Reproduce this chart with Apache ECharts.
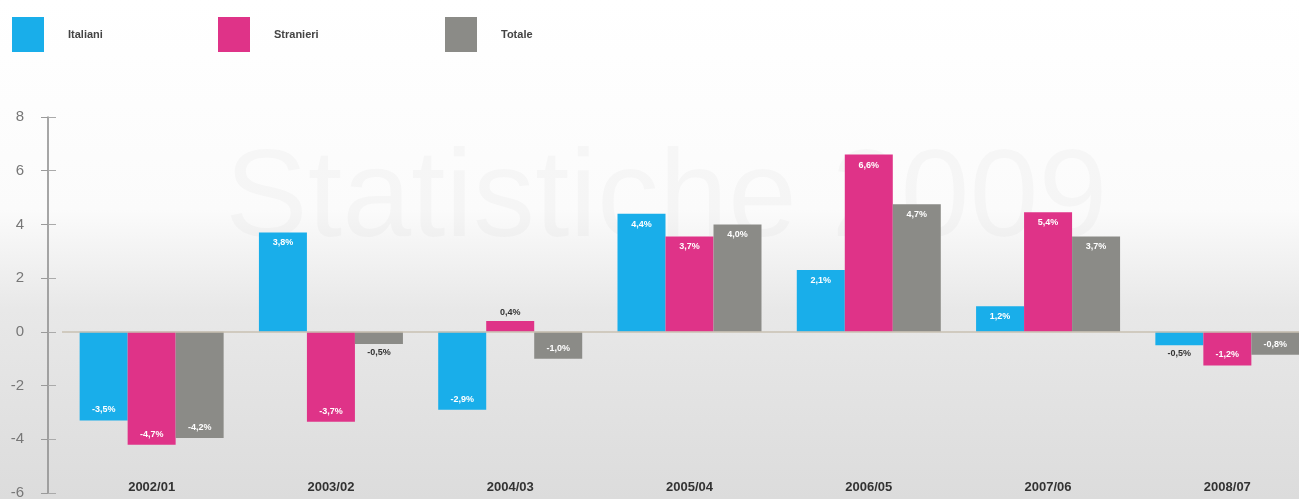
<!DOCTYPE html>
<html>
<head>
<meta charset="utf-8">
<script src="https://cdn.jsdelivr.net/npm/echarts@6/dist/echarts.min.js"></script>
<style>
html,body{margin:0;padding:0;background:#fff;}
#chart{width:1299px;height:499px;}
</style>
</head>
<body>
<div id="chart"></div>
<script>
// Categories
var categories = ['2002/01', '2003/02', '2004/03', '2005/04', '2006/05', '2007/06', '2008/07'];
// Bar heights as drawn in the picture
var italiani  = [-3.3, 3.7, -2.9, 4.4, 2.3, 0.95, -0.5];
var stranieri = [-4.2, -3.35, 0.4, 3.55, 6.6, 4.45, -1.25];
var totale    = [-3.95, -0.45, -1.0, 4.0, 4.75, 3.55, -0.85];
// Printed value labels
var italianiLabels  = [-3.5, 3.8, -2.9, 4.4, 2.1, 1.2, -0.5];
var stranieriLabels = [-4.7, -3.7, 0.4, 3.7, 6.6, 5.4, -1.2];
var totaleLabels    = [-4.2, -0.5, -1.0, 4.0, 4.7, 3.7, -0.8];
// Y ticks
var yTicks = [-6, -4, -2, 0, 2, 4, 6, 8];

var colors = { Italiani: '#19aeea', Stranieri: '#df3388', Totale: '#8b8b87' };

function fmt(v) { return v.toFixed(1).replace('.', ',') + '%'; }

function buildData(values, labels) {
  return values.map(function (v, i) {
    var small = Math.abs(v) < 0.7;
    var pos = small ? (v >= 0 ? 'top' : 'bottom') : (v >= 0 ? 'insideTop' : 'insideBottom');
    return {
      value: v,
      label: {
        show: true,
        position: pos,
        distance: small ? 4 : 6,
        formatter: fmt(labels[i]),
        color: small ? '#333' : '#ffffff',
        fontSize: 9,
        fontWeight: 'bold',
        fontFamily: 'Liberation Sans, Arial, sans-serif'
      }
    };
  });
}

function makeSeries(name, values, labels, extra) {
  var s = {
    name: name,
    type: 'bar',
    barWidth: 48,
    barGap: '0%',
    itemStyle: { color: colors[name] },
    data: buildData(values, labels)
  };
  if (extra) for (var k in extra) s[k] = extra[k];
  return s;
}

function makeLegend(name, left) {
  return {
    data: [name],
    left: left,
    top: 12,
    icon: 'rect',
    itemWidth: 32,
    itemHeight: 35,
    selectedMode: false,
    textStyle: {
      color: '#444',
      fontSize: 11,
      fontWeight: 'bold',
      fontFamily: 'Liberation Sans, Arial, sans-serif',
      padding: [0, 0, 0, 19]
    }
  };
}

var chart = echarts.init(document.getElementById('chart'), null, { renderer: 'canvas' });
chart.setOption({
  animation: false,
  backgroundColor: {
    type: 'linear', x: 0, y: 0, x2: 0, y2: 1,
    colorStops: [
      { offset: 0, color: '#ffffff' },
      { offset: 0.42, color: '#fbfbfb' },
      { offset: 0.62, color: '#e8e8e8' },
      { offset: 1, color: '#dcdcdc' }
    ]
  },
  graphic: [{
    type: 'text',
    left: 225,
    top: 140,
    silent: true,
    z: 0,
    style: {
      text: 'Statistiche 2009',
      fontSize: 124,
      fontFamily: 'Liberation Sans, Arial, sans-serif',
      fill: 'rgba(0,0,0,0.025)'
    }
  }],
  legend: [
    makeLegend('Italiani', 7),
    makeLegend('Stranieri', 213),
    makeLegend('Totale', 440)
  ],
  grid: { left: 62, width: 1255, top: 117, height: 376, outerBoundsMode: 'none', containLabel: false },
  xAxis: {
    type: 'category',
    data: categories,
    axisLine: { show: false, onZero: false },
    axisTick: { show: false },
    axisLabel: {
      margin: -12,
      color: '#333',
      fontSize: 13,
      fontWeight: 'bold',
      fontFamily: 'Liberation Sans, Arial, sans-serif'
    },
    splitLine: { show: false }
  },
  yAxis: [{
    type: 'value',
    min: yTicks[0],
    max: yTicks[yTicks.length - 1],
    interval: 2,
    offset: 14,
    axisLine: { show: true, lineStyle: { color: '#8a8a8a', width: 1.5 } },
    axisTick: { show: true, length: 7, lineStyle: { color: '#9a9a9a' } },
    axisLabel: {
      margin: 24,
      color: '#777',
      fontSize: 15,
      fontFamily: 'Liberation Sans, Arial, sans-serif'
    },
    splitLine: { show: false }
  }, {
    type: 'value',
    position: 'left',
    min: yTicks[0],
    max: yTicks[yTicks.length - 1],
    interval: 2,
    offset: 14,
    axisLine: { show: false },
    axisTick: { show: true, inside: true, length: 8, lineStyle: { color: '#aaa' } },
    axisLabel: { show: false },
    splitLine: { show: false }
  }],
  series: [
    makeSeries('Italiani', italiani, italianiLabels, {
      markLine: {
        silent: true,
        symbol: 'none',
        label: { show: false },
        lineStyle: { color: '#c8c0b2', width: 1.5, type: 'solid' },
        data: [{ yAxis: 0 }]
      }
    }),
    makeSeries('Stranieri', stranieri, stranieriLabels),
    makeSeries('Totale', totale, totaleLabels)
  ]
});
</script>
</body>
</html>
